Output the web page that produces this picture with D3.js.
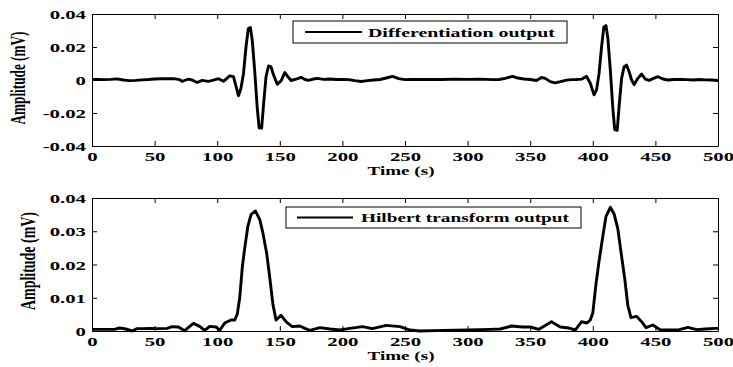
<!DOCTYPE html>
<html>
<head>
<meta charset="utf-8">
<script src="https://d3js.org/d3.v7.min.js"></script>
<style>
body { margin: 0; background: #fff; }
svg { display: block; }
text { font-family: "Liberation Serif", "Times New Roman", serif; font-weight: bold; font-size: 13px; fill: #000; }
.axis path, .axis line { stroke: #000; stroke-width: 1; }
.sig { fill: none; stroke: #000; stroke-width: 2.9; stroke-linejoin: round; }
</style>
</head>
<body>
<svg id="fig" width="733" height="367"></svg>
<script>
// two stacked panels: differentiation output, hilbert transform output

// data [time (s), amplitude (mV)]
var diffSeries = [
  [0,0.0003],[5,0.0003],[10,0.0002],[15,0.0004],[20,0.0007],[25,0.0000],[30,-0.0004],[35,-0.0002],
  [40,0.0001],[45,0.0003],[50,0.0006],[55,0.0008],[60,0.0008],[65,0.0008],[70,0.0002],[72,-0.0008],
  [75,0.0000],[77,0.0005],[80,0.0000],[84,-0.0015],[88,-0.0002],[93,-0.0008],[97,-0.0001],[101,0.0008],
  [105,-0.0008],[110,0.0025],[113,0.0020],[117,-0.0095],[119,-0.0050],[121,0.0040],[123,0.0200],
  [124.8,0.0310],[126.5,0.0318],[128,0.0240],[130,0.0050],[132,-0.0170],[133.5,-0.0290],[135.5,-0.0292],
  [137,-0.0150],[139,0.0020],[141,0.0085],[143,0.0080],[145,0.0030],[148,-0.0026],[151,-0.0005],
  [154,0.0045],[157,0.0015],[159,-0.0003],[163,0.0005],[167,0.0016],[170,0.0003],[173,-0.0002],
  [177,0.0006],[180,0.0010],[185,0.0004],[190,0.0006],[195,0.0003],[200,0.0004],[205,0.0002],
  [210,-0.0004],[215,-0.0009],[220,-0.0004],[225,0.0000],[230,0.0003],[235,0.0012],[240,0.0022],
  [245,0.0008],[250,0.0002],[255,0.0003],[260,0.0003],[270,0.0004],[280,0.0003],[290,0.0005],
  [300,0.0004],[310,0.0005],[320,0.0002],[325,0.0003],[330,0.0010],[336,0.0022],[340,0.0012],
  [345,0.0006],[350,0.0003],[355,-0.0003],[359,0.0015],[362,0.0010],[366,-0.0010],[370,-0.0017],
  [375,-0.0008],[379,-0.0001],[383,0.0002],[387,0.0003],[391,0.0005],[395,0.0022],[398,-0.0020],
  [401,-0.0090],[403,-0.0060],[405,0.0040],[407,0.0200],[408.8,0.0320],[410.5,0.0330],[412,0.0255],
  [414,0.0060],[416,-0.0170],[417.5,-0.0300],[419.5,-0.0305],[421,-0.0160],[423,0.0010],[425,0.0080],
  [427,0.0090],[429,0.0050],[431,0.0000],[433,-0.0028],[436,0.0010],[439,0.0036],[442,0.0005],
  [445,-0.0002],[448,0.0008],[452,0.0020],[456,0.0006],[460,0.0000],[465,0.0003],[470,0.0004],
  [475,0.0002],[480,0.0000],[485,0.0003],[490,0.0001],[495,0.0000],[500,-0.0003]
];

var hilbertSeries = [
  [0,0.0005],[10,0.0005],[18,0.0005],[22,0.0009],[27,0.0006],[32,0.0000],[36,0.0007],[40,0.0007],
  [46,0.0008],[52,0.0007],[60,0.0008],[64,0.0013],[69,0.0012],[74,0.0001],[81,0.0023],[86,0.0014],
  [90,0.0002],[94,0.0014],[99,0.0012],[102,0.0002],[106,0.0024],[111,0.0033],[114,0.0033],
  [116,0.0050],[118,0.0100],[120,0.0190],[122,0.0250],[124.5,0.0315],[127,0.0350],[130.5,0.0361],
  [134,0.0335],[136.5,0.0295],[139.5,0.0234],[142,0.0160],[144.5,0.0080],[147,0.0033],[151,0.0047],
  [155.5,0.0026],[160,0.0013],[166,0.0015],[170,0.0008],[174,0.0002],[182,0.0010],[190,0.0006],
  [198,0.0003],[206,0.0008],[216,0.0013],[224,0.0007],[235,0.0017],[246,0.0013],[254,0.0003],
  [262,0.0000],[280,0.0002],[300,0.0003],[318,0.0005],[326,0.0006],[335,0.0015],[344,0.0012],
  [350,0.0012],[357,0.0005],[367,0.0028],[374,0.0012],[381,0.0009],[386,0.0003],[391,0.0028],
  [395,0.0024],[398,0.0033],[400,0.0054],[402.5,0.0140],[405,0.0210],[408,0.0285],[410.5,0.0344],
  [414,0.0372],[417,0.0352],[420,0.0307],[422.5,0.0238],[425.5,0.0158],[428,0.0076],[430.5,0.0040],
  [435,0.0044],[439,0.0028],[442.5,0.0010],[448,0.0018],[454,0.0003],[461,0.0003],[469,0.0004],
  [476,0.0011],[483,0.0004],[490,0.0006],[498,0.0008],[500,0.0008]
];

var xTicks = [0, 50, 100, 150, 200, 250, 300, 350, 400, 450, 500];
var yTicksTop = [-0.04, -0.02, 0, 0.02, 0.04];
var yTicksBottom = [0, 0.01, 0.02, 0.03, 0.04];
var legendLabels = ["Differentiation output", "Hilbert transform output"];
var xTitle = "Time (s)", yTitle = "Amplitude (mV)";

var svg = d3.select("#fig");
var sx = 1.6; // glyphs in the reference are stretched sideways

var fmt = function(d) { return d === 0 ? "0" : d.toFixed(2); };

var panels = [
  {series: diffSeries, yDomain: [-0.04, 0.04], yTicks: yTicksTop, top: 14, bottom: 146,
   legend: legendLabels[0], box: [293, 21, 274, 22], lineX: [305, 362], textX: 368, textLen: 187,
   yLab: [18, 78, 93], xLabY: 175},
  {series: hilbertSeries, yDomain: [0, 0.04], yTicks: yTicksBottom, top: 198, bottom: 331,
   legend: legendLabels[1], box: [286, 207, 295, 21], lineX: [297, 353], textX: 361, textLen: 208,
   yLab: [28, 261, 98], xLabY: 360}
];

var left = 92, right = 718;

panels.forEach(function(p) {
  var x = d3.scaleLinear().domain([0, 500]).range([left, right]),
      y = d3.scaleLinear().domain(p.yDomain).range([p.bottom, p.top]);

  var g = svg.append("g");

  // box with inward ticks on all sides
  g.append("g").attr("class", "axis")
      .attr("transform", "translate(0," + p.top + ")")
      .call(d3.axisTop(x).tickValues(xTicks).tickSizeInner(-5).tickSizeOuter(0).tickFormat(""));
  g.append("g").attr("class", "axis")
      .attr("transform", "translate(" + right + ",0)")
      .call(d3.axisRight(y).tickValues(p.yTicks).tickSizeInner(-5).tickSizeOuter(0).tickFormat(""));

  var xa = g.append("g").attr("class", "axis")
      .attr("transform", "translate(0," + p.bottom + ")")
      .call(d3.axisBottom(x).tickValues(xTicks).tickSizeInner(-5).tickSizeOuter(0));
  xa.selectAll("text")
      .attr("y", 6).attr("dy", "0.71em")
      .attr("transform", "scale(" + sx + ",1)");

  var ya = g.append("g").attr("class", "axis")
      .attr("transform", "translate(" + left + ",0)")
      .call(d3.axisLeft(y).tickValues(p.yTicks).tickSizeInner(-5).tickSizeOuter(0).tickFormat(fmt));
  ya.selectAll("text")
      .attr("x", -6 / sx).attr("dy", "0.35em")
      .attr("transform", "scale(" + sx + ",1)");

  g.selectAll(".axis text").style("font-size", "13px").style("font-family", null);

  // signal
  var line = d3.line()
      .x(function(d) { return x(d[0]); })
      .y(function(d) { return y(d[1]); });

  g.append("path")
      .datum(p.series)
      .attr("class", "sig")
      .attr("d", line);

  // legend
  g.append("rect")
      .attr("x", p.box[0]).attr("y", p.box[1])
      .attr("width", p.box[2]).attr("height", p.box[3])
      .attr("fill", "#fff").attr("stroke", "#000").attr("stroke-width", 1);
  var ly = p.box[1] + p.box[3] / 2;
  g.append("line")
      .attr("x1", p.lineX[0]).attr("x2", p.lineX[1])
      .attr("y1", ly).attr("y2", ly)
      .attr("stroke", "#000").attr("stroke-width", 2.2);
  g.append("text")
      .attr("x", p.textX).attr("y", ly).attr("dy", "0.35em")
      .attr("textLength", p.textLen).attr("lengthAdjust", "spacingAndGlyphs")
      .text(p.legend);

  // axis titles
  g.append("text")
      .attr("x", 401).attr("y", p.xLabY)
      .attr("text-anchor", "middle")
      .attr("textLength", 67).attr("lengthAdjust", "spacingAndGlyphs")
      .text(xTitle);

  g.append("text")
      .attr("transform", "translate(" + p.yLab[0] + "," + p.yLab[1] + ") scale(" + sx + ",1) rotate(-90)")
      .attr("text-anchor", "middle").attr("dy", "0.35em")
      .attr("textLength", p.yLab[2]).attr("lengthAdjust", "spacingAndGlyphs")
      .text(yTitle);
});
</script>
</body>
</html>
